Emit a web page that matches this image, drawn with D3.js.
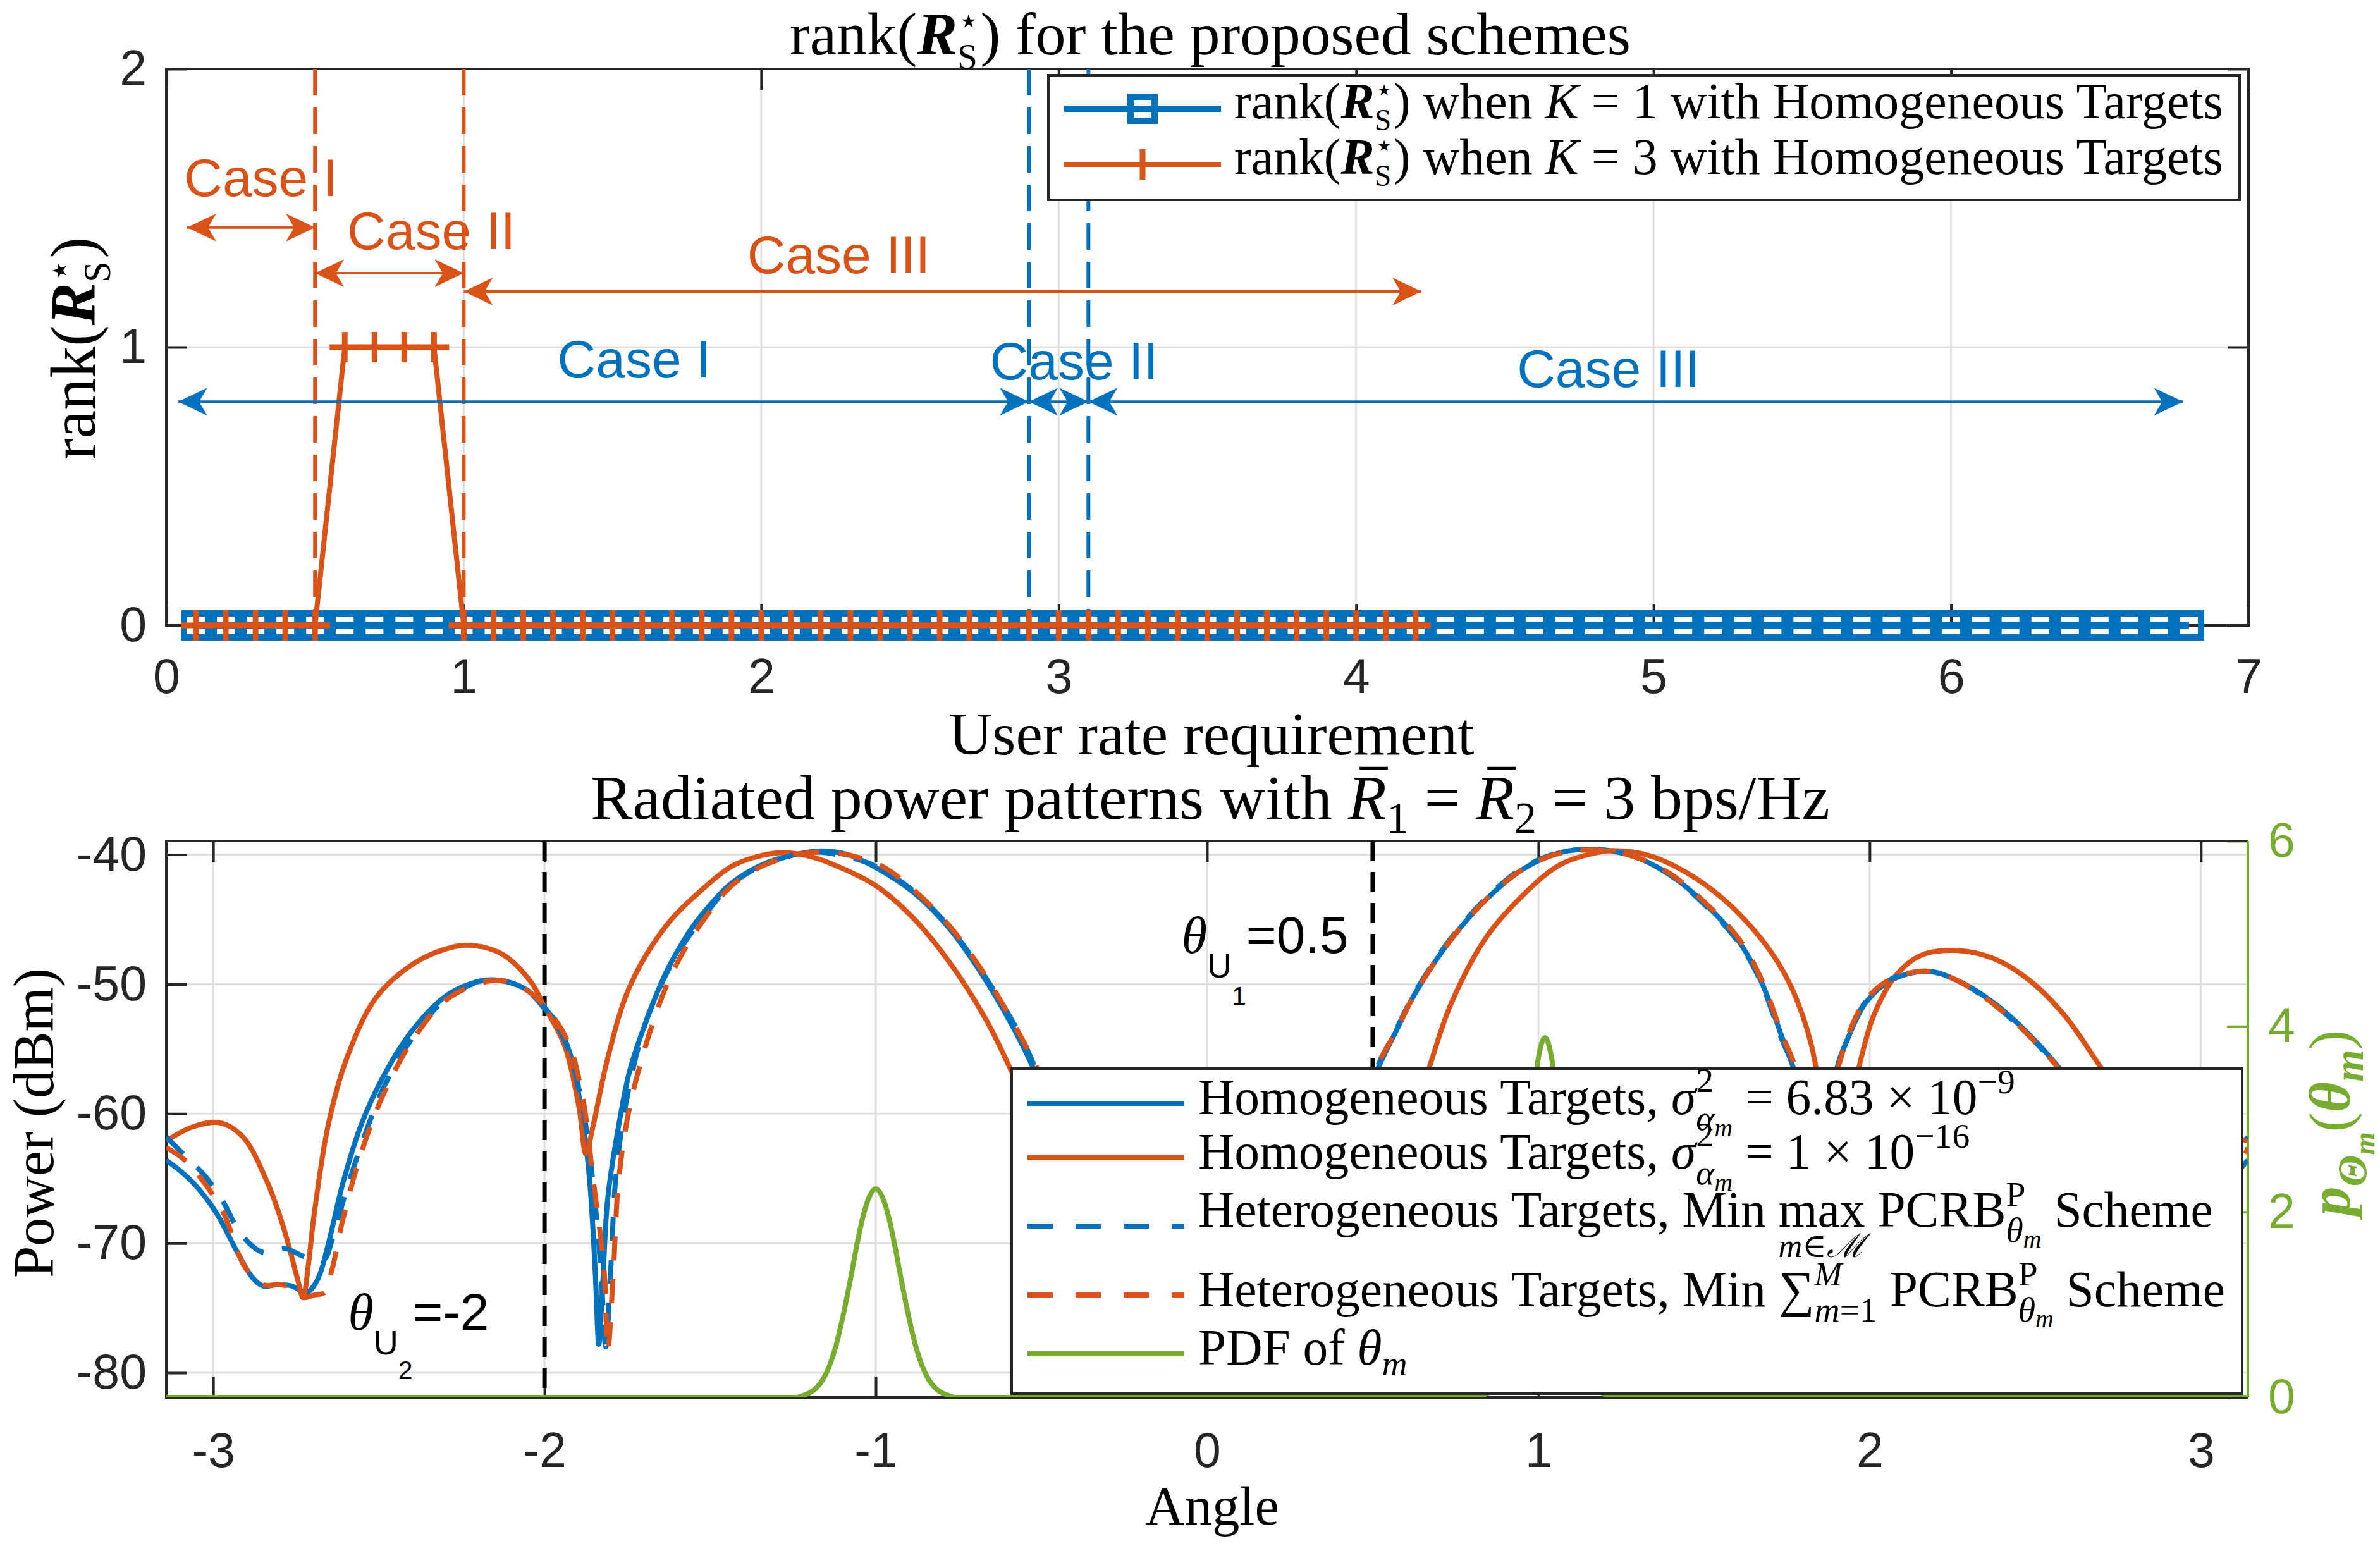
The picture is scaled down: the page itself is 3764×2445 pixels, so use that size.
<!DOCTYPE html>
<html>
<head>
<meta charset="utf-8">
<script src="https://cdn.jsdelivr.net/npm/d3@7"></script>
<style>
body{margin:0;background:#fff}
svg{display:block}
svg text{white-space:pre}
</style>
</head>
<body>
<script>
// ---------- data: top panel (rank vs user rate) ----------
var rateK1 = [0.1,0.2,0.3,0.4,0.5,0.6,0.7,0.8,0.9,1.0,1.1,1.2,1.3,1.4,1.5,1.6,1.7,1.8,1.9,2.0,
  2.1,2.2,2.3,2.4,2.5,2.6,2.7,2.8,2.9,3.0,3.1,3.2,3.3,3.4,3.5,3.6,3.7,3.8,3.9,4.0,
  4.1,4.2,4.3,4.4,4.5,4.6,4.7,4.8,4.9,5.0,5.1,5.2,5.3,5.4,5.5,5.6,5.7,5.8,5.9,6.0,
  6.1,6.2,6.3,6.4,6.5,6.6,6.7,6.8];
var rankK1 = [0,0,0,0,0,0,0,0,0,0,0,0,0,0,0,0,0,0,0,0,
  0,0,0,0,0,0,0,0,0,0,0,0,0,0,0,0,0,0,0,0,
  0,0,0,0,0,0,0,0,0,0,0,0,0,0,0,0,0,0,0,0,
  0,0,0,0,0,0,0,0];
var rateK3 = [0.1,0.2,0.3,0.4,0.5,0.6,0.7,0.8,0.9,1.0,1.1,1.2,1.3,1.4,1.5,1.6,1.7,1.8,1.9,2.0,
  2.1,2.2,2.3,2.4,2.5,2.6,2.7,2.8,2.9,3.0,3.1,3.2,3.3,3.4,3.5,3.6,3.7,3.8,3.9,4.0,4.1,4.2];
var rankK3 = [0,0,0,0,0,1,1,1,1,0,0,0,0,0,0,0,0,0,0,0,
  0,0,0,0,0,0,0,0,0,0,0,0,0,0,0,0,0,0,0,0,0,0];
var k3Bounds = [0.5, 1.0];
var k1Bounds = [2.9, 3.1];
var caseNames = ["Case I", "Case II", "Case III"];
var k3CaseEdges = [0.07, 0.5, 1.0, 4.22];
var k3ArrowRank = [1.43, 1.266, 1.20];
var k3LabelAt = [[0.06, 1.543], [0.608, 1.352], [1.953, 1.266]];
var k1CaseEdges = [0.04, 2.9, 3.1, 6.78];
var k1ArrowRank = [0.804, 0.804, 0.804];
var k1LabelAt = [[1.315, 0.891], [2.769, 0.883], [4.541, 0.857]];
var topXTicks = [0,1,2,3,4,5,6,7];
var topYTicks = [0,1,2];

// ---------- data: bottom panel (radiated power patterns) ----------
var homog69 = [[-3.1416,-63.6],[-3.10,-64.4],[-3.058,-65.4],[-2.992,-67.6],[-2.927,-70.7],[-2.883,-72.6],
  [-2.85,-73.3],[-2.806,-73.2],[-2.762,-73.3],[-2.718,-73.8],[-2.685,-72.8],[-2.653,-70.1],[-2.609,-65.4],
  [-2.554,-60.9],[-2.488,-57.2],[-2.40,-53.6],[-2.291,-50.8],[-2.181,-49.7],[-2.116,-49.8],[-2.05,-50.5],
  [-2.003,-51.8],[-1.962,-53.0],[-1.918,-55.8],[-1.886,-60.3],[-1.864,-65.1],[-1.847,-72.1],[-1.836,-77.8],
  [-1.825,-73.5],[-1.809,-66.5],[-1.776,-60.9],[-1.743,-56.7],[-1.688,-52.5],[-1.633,-49.1],[-1.579,-46.6],
  [-1.53,-44.8],[-1.435,-42.2],[-1.326,-40.6],[-1.216,-39.86],[-1.161,-39.72],[-1.085,-40.0],[-1.0,-41.0],
  [-0.887,-42.9],[-0.778,-45.7],[-0.668,-49.7],[-0.58,-53.6],[-0.526,-56.4],[-0.45,-61.0],[-0.38,-68.0],
  [-0.32,-75.0],[-0.26,-69.0],[-0.15,-63.0],[0.0,-60.5],[0.15,-61.5],[0.3,-66.0],[0.38,-71.0],[0.44,-63.0],
  [0.48,-59.0],[0.516,-56.5],[0.571,-53.6],[0.626,-50.8],[0.735,-46.6],[0.845,-43.4],[0.955,-41.1],
  [1.064,-39.86],[1.174,-39.6],[1.283,-40.1],[1.393,-41.5],[1.503,-43.8],[1.605,-46.7],[1.671,-49.7],
  [1.737,-54.2],[1.77,-56.5],[1.80,-60.0],[1.83,-83.0],[1.865,-64.0],[1.901,-56.5],[1.934,-54.2],
  [1.989,-51.4],[2.065,-49.7],[2.175,-49.0],[2.263,-49.7],[2.372,-51.4],[2.482,-53.9],[2.57,-56.4],
  [2.65,-59.0],[2.75,-63.0],[2.85,-68.0],[2.95,-74.0],[3.0,-71.5],[3.07,-66.0],[3.1416,-63.6]];
var homog16 = [[-3.1416,-62.1],[-3.06,-61.0],[-2.98,-60.7],[-2.91,-61.8],[-2.84,-65.1],[-2.80,-67.8],
  [-2.773,-70.1],[-2.745,-72.8],[-2.729,-74.2],[-2.712,-71.5],[-2.696,-67.9],[-2.653,-60.9],[-2.598,-55.8],
  [-2.51,-51.1],[-2.40,-48.5],[-2.30,-47.3],[-2.225,-47.0],[-2.127,-47.7],[-2.039,-49.9],[-2.003,-51.6],
  [-1.94,-54.7],[-1.896,-59.5],[-1.875,-63.1],[-1.853,-60.9],[-1.81,-55.8],[-1.743,-50.2],[-1.633,-45.5],
  [-1.524,-42.7],[-1.435,-40.9],[-1.35,-40.1],[-1.271,-39.86],[-1.19,-40.2],[-1.107,-41.0],[-1.0,-42.4],
  [-0.887,-44.9],[-0.778,-48.3],[-0.668,-52.7],[-0.591,-56.7],[-0.5,-62.0],[-0.4,-70.0],[-0.3,-66.0],
  [-0.1,-62.0],[0.1,-64.0],[0.3,-70.0],[0.5,-75.0],[0.6,-62.0],[0.67,-56.5],[0.735,-51.6],[0.845,-46.3],
  [0.955,-43.1],[1.064,-40.8],[1.174,-39.86],[1.228,-39.7],[1.338,-40.1],[1.448,-41.4],[1.557,-43.4],
  [1.65,-45.8],[1.72,-48.2],[1.78,-51.2],[1.835,-56.0],[1.86,-65.0],[1.885,-83.0],[1.92,-66.0],
  [1.95,-58.5],[1.967,-56.5],[2.011,-52.5],[2.077,-49.4],[2.153,-47.8],[2.263,-47.4],[2.372,-48.0],
  [2.482,-49.7],[2.591,-52.5],[2.70,-56.5],[2.8,-60.0],[2.9,-61.2],[3.0,-61.3],[3.1416,-62.1]];
var heteroMax = [[-3.1416,-61.8],[-3.091,-63.1],[-3.025,-64.8],[-2.970,-66.8],[-2.916,-69.3],[-2.85,-70.7],
  [-2.784,-70.4],[-2.729,-71.0],[-2.696,-71.2],[-2.664,-71.2],[-2.642,-69.8],[-2.598,-65.9],[-2.543,-61.7],
  [-2.488,-58.1],[-2.40,-54.2],[-2.291,-51.0],[-2.17,-49.7],[-2.08,-50.1],[-2.003,-51.7],[-1.94,-54.3],
  [-1.89,-58.8],[-1.855,-65.0],[-1.83,-72.0],[-1.815,-78.0],[-1.80,-72.0],[-1.785,-65.0],[-1.755,-59.3],
  [-1.70,-53.4],[-1.64,-49.6],[-1.58,-46.9],[-1.52,-44.8],[-1.435,-42.3],[-1.326,-40.65],[-1.19,-39.8],
  [-1.1,-40.1],[-1.0,-40.9],[-0.887,-42.8],[-0.778,-45.6],[-0.668,-49.5],[-0.565,-53.9],[-0.52,-56.4],
  [-0.45,-61.0],[-0.38,-68.0],[-0.32,-75.0],[-0.26,-69.0],[-0.15,-63.0],[0.0,-60.5],[0.15,-61.5],
  [0.3,-66.0],[0.38,-71.0],[0.44,-63.0],[0.48,-59.0],[0.512,-56.5],[0.571,-53.5],[0.626,-50.7],
  [0.735,-46.5],[0.845,-43.3],[0.955,-41.0],[1.064,-39.85],[1.174,-39.6],[1.283,-40.1],[1.393,-41.5],
  [1.503,-43.9],[1.605,-46.8],[1.671,-49.8],[1.737,-54.4],[1.772,-56.5],[1.80,-60.0],[1.835,-83.0],
  [1.868,-64.0],[1.903,-56.5],[1.934,-54.2],[1.989,-51.3],[2.065,-49.6],[2.175,-49.0],[2.263,-49.7],
  [2.372,-51.5],[2.482,-54.0],[2.57,-56.5],[2.65,-59.0],[2.75,-63.0],[2.85,-67.0],[2.95,-70.0],
  [3.05,-65.0],[3.1416,-61.8]];
var heteroSum = [[-3.1416,-62.6],[-3.08,-63.7],[-3.025,-65.4],[-2.97,-67.6],[-2.905,-71.8],[-2.85,-73.2],
  [-2.795,-73.2],[-2.751,-73.6],[-2.729,-74.2],[-2.696,-74.0],[-2.664,-73.8],[-2.642,-72.1],[-2.609,-68.2],
  [-2.554,-63.1],[-2.488,-58.6],[-2.40,-54.4],[-2.291,-51.1],[-2.149,-49.7],[-2.072,-50.2],[-2.003,-51.6],
  [-1.93,-54.4],[-1.886,-58.6],[-1.853,-65.1],[-1.82,-72.1],[-1.809,-78.3],[-1.792,-72.1],[-1.776,-65.1],
  [-1.743,-59.5],[-1.688,-54.2],[-1.633,-50.2],[-1.579,-47.4],[-1.524,-45.2],[-1.435,-42.4],[-1.326,-40.7],
  [-1.172,-39.8],[-0.997,-40.7],[-0.887,-42.7],[-0.778,-45.5],[-0.668,-49.4],[-0.559,-54.2],[-0.515,-56.4],
  [-0.45,-60.5],[-0.38,-67.0],[-0.32,-74.0],[-0.26,-68.0],[-0.15,-62.5],[0.0,-60.0],[0.15,-61.0],
  [0.3,-65.5],[0.38,-70.5],[0.44,-62.5],[0.48,-58.8],[0.51,-56.5],[0.571,-53.6],[0.626,-50.8],
  [0.735,-46.6],[0.845,-43.4],[0.955,-41.1],[1.064,-39.9],[1.174,-39.65],[1.283,-40.1],[1.393,-41.4],
  [1.503,-43.7],[1.605,-46.5],[1.671,-49.5],[1.737,-54.0],[1.775,-56.5],[1.81,-65.0],[1.84,-82.0],
  [1.87,-65.0],[1.895,-57.2],[1.91,-56.0],[1.934,-54.0],[1.989,-51.2],[2.065,-49.6],[2.175,-49.0],
  [2.263,-49.7],[2.372,-51.5],[2.482,-54.0],[2.57,-56.5],[2.7,-61.0],[2.85,-68.0],[2.95,-72.0],
  [3.05,-66.0],[3.134,-63.1],[3.1416,-62.6]];
var pdfAngle = [-3.1416,-1.24,-1.22,-1.20,-1.18,-1.16,-1.14,-1.12,-1.10,-1.08,-1.06,-1.04,-1.02,-1.00,
  -0.98,-0.96,-0.94,-0.92,-0.90,-0.88,-0.86,-0.84,-0.82,-0.80,-0.78,-0.76,
  0.82,0.84,0.86,0.88,0.90,0.92,0.94,0.96,0.98,1.00,1.02,1.04,1.06,1.08,1.10,1.12,1.14,1.16,1.18,1.20,1.22,3.1416];
var pdfValue = [0,0,0.02,0.05,0.10,0.19,0.34,0.56,0.86,1.21,1.59,1.93,2.16,2.25,
  2.16,1.93,1.59,1.21,0.86,0.56,0.34,0.19,0.10,0.05,0.02,0,
  0,0.03,0.09,0.21,0.46,0.88,1.50,2.27,3.06,3.66,3.88,3.66,3.06,2.27,1.50,0.88,0.46,0.21,0.09,0.03,0,0];
var userAngles = [-2, 0.5];
var botXTicks = [-3,-2,-1,0,1,2,3];
var botYTicks = [-80,-70,-60,-50,-40];
var pdfTicks = [0,2,4,6];

// ---------- look ----------
var W = 3764, H = 2445;
var BLUE = "#0072BD", ORANGE = "#D95319", GREEN = "#77AC30", AX = "#262626", GRID = "#dfdfdf";
var SERIF = "'Liberation Serif','DejaVu Serif',serif";
var SANS = "'Liberation Sans',Arial,sans-serif";
var TICK_FS = 77;

var svg = d3.select("body").append("svg").attr("width", W).attr("height", H);
svg.append("rect").attr("width", W).attr("height", H).attr("fill", "#fff");

// text made of pieces (sub/superscripts), laid out left to right
function rich(parent, pieces, fs, color) {
  var g = parent.append("g").attr("fill", color || "#000");
  var cx = 0, prevStart = 0, stackMax = 0;
  pieces.forEach(function(p) {
    if (p.stack) { stackMax = cx; cx = prevStart; }
    if (p.join) { cx = Math.max(cx, stackMax); }
    var k = p.k || 1;
    var it = p.f == "it" || p.f == "bi";
    var t = g.append("text")
      .attr("x", cx).attr("y", (p.dy || 0) * fs)
      .attr("font-size", k * fs)
      .attr("font-family", p.f == "sf" ? SANS : SERIF)
      .attr("font-style", it ? "italic" : "normal")
      .attr("font-weight", p.f == "bi" ? "bold" : "normal")
      .text(p.s);
    var w = t.node().getComputedTextLength();
    if (p.bar) {
      g.append("line").attr("x1", cx + 0.3 * w).attr("x2", cx + w + 0.02 * fs)
        .attr("y1", -0.8 * fs * k).attr("y2", -0.8 * fs * k)
        .attr("stroke", color || "#000").attr("stroke-width", 0.045 * fs);
    }
    if (p.under) {
      g.append("text").attr("x", cx + w / 2).attr("y", p.under.dy * fs)
        .attr("text-anchor", "middle").attr("font-size", p.under.k * fs)
        .attr("font-family", SERIF).attr("font-style", "italic")
        .text(p.under.s);
    }
    prevStart = cx;
    cx += w;
  });
  return {g: g, w: cx};
}

function put(parent, pieces, opt) {
  var r = rich(parent, pieces, opt.fs || 100, opt.color);
  var s = opt.scale || (opt.width ? opt.width / r.w : 1);
  var off = opt.anchor == "middle" ? r.w / 2 : 0;
  r.g.attr("transform", "translate(" + opt.x + "," + opt.y + ")" +
    (opt.rotate ? " rotate(" + opt.rotate + ")" : "") +
    " scale(" + s + ") translate(" + (-off) + ",0)");
  return r;
}

function styleAxis(sel, color) {
  sel.attr("font-size", null).attr("font-family", null);
  sel.select(".domain").remove();
  sel.selectAll("line").attr("stroke", color).attr("stroke-width", 4);
  sel.selectAll("text").attr("fill", color).attr("font-size", TICK_FS).attr("font-family", SANS);
}

function arrow(g, x0, x1, y, color) {
  g.append("line").attr("x1", x0).attr("x2", x1).attr("y1", y).attr("y2", y)
    .attr("stroke", color).attr("stroke-width", 4);
  [[x0, 1], [x1, -1]].forEach(function(e) {
    var L = 46, hw = 22, s = e[1];
    g.append("path").attr("fill", color)
      .attr("d", "M" + e[0] + "," + y + "L" + (e[0] + s * L) + "," + (y - hw) +
        "L" + (e[0] + s * 0.72 * L) + "," + y + "L" + (e[0] + s * L) + "," + (y + hw) + "Z");
  });
}

var rankPieces = function(tail) {
  return [{s: "rank(", f: "rm"}, {s: "R", f: "bi"}, {s: "\u22C6", f: "rm", k: 0.6, dy: -0.36},
    {s: "S", f: "rm", k: 0.6, dy: 0.24, stack: true}, {s: tail, f: "rm", join: true}];
};

// ================= top panel =================
var xT = d3.scaleLinear().domain([0, 7]).range([263, 3556]);
var yT = d3.scaleLinear().domain([0, 2]).range([989, 109]);
var gT = svg.append("g");

gT.selectAll(".gx").data(topXTicks).enter().append("line")
  .attr("x1", d => xT(d)).attr("x2", d => xT(d)).attr("y1", yT(2)).attr("y2", yT(0))
  .attr("stroke", GRID).attr("stroke-width", 3);
gT.selectAll(".gy").data(topYTicks).enter().append("line")
  .attr("x1", xT(0)).attr("x2", xT(7)).attr("y1", d => yT(d)).attr("y2", d => yT(d))
  .attr("stroke", GRID).attr("stroke-width", 3);

gT.append("g").attr("transform", "translate(0," + yT(0) + ")")
  .call(d3.axisBottom(xT).tickValues(topXTicks).tickFormat(d => String(d)).tickSize(-33).tickPadding(52))
  .call(styleAxis, AX);
gT.append("g").attr("transform", "translate(0," + yT(2) + ")")
  .call(d3.axisTop(xT).tickValues(topXTicks).tickFormat("").tickSize(-33)).call(styleAxis, AX);
gT.append("g").attr("transform", "translate(" + xT(0) + ",0)")
  .call(d3.axisLeft(yT).tickValues(topYTicks).tickFormat(d => String(d)).tickSize(-33).tickPadding(31))
  .call(styleAxis, AX);
gT.append("g").attr("transform", "translate(" + xT(7) + ",0)")
  .call(d3.axisRight(yT).tickValues(topYTicks).tickFormat("").tickSize(-33)).call(styleAxis, AX);
gT.append("rect").attr("x", xT(0)).attr("y", yT(2)).attr("width", xT(7) - xT(0)).attr("height", yT(0) - yT(2))
  .attr("fill", "none").attr("stroke", AX).attr("stroke-width", 4);

// case boundaries
gT.selectAll(".b3").data(k3Bounds).enter().append("line")
  .attr("x1", d => xT(d)).attr("x2", d => xT(d)).attr("y1", yT(2)).attr("y2", yT(0))
  .attr("stroke", ORANGE).attr("stroke-width", 6).attr("stroke-dasharray", "42,19");
gT.selectAll(".b1").data(k1Bounds).enter().append("line")
  .attr("x1", d => xT(d)).attr("x2", d => xT(d)).attr("y1", yT(2)).attr("y2", yT(0))
  .attr("stroke", BLUE).attr("stroke-width", 6).attr("stroke-dasharray", "42,19");

// rank series
var lineT = d3.line().x(d => xT(d[0])).y(d => yT(d[1]));
var k1 = rateK1.map((r, i) => [r, rankK1[i]]);
var k3 = rateK3.map((r, i) => [r, rankK3[i]]);
gT.append("path").attr("d", lineT(k1)).attr("fill", "none").attr("stroke", BLUE).attr("stroke-width", 11);
gT.selectAll(".sq").data(k1).enter().append("rect")
  .attr("x", d => xT(d[0]) - 19).attr("y", d => yT(d[1]) - 19).attr("width", 38).attr("height", 38)
  .attr("fill", "none").attr("stroke", BLUE).attr("stroke-width", 10);
gT.append("path").attr("d", lineT(k3)).attr("fill", "none").attr("stroke", ORANGE).attr("stroke-width", 8);
var plus = gT.selectAll(".pl").data(k3).enter().append("g")
  .attr("transform", d => "translate(" + xT(d[0]) + "," + yT(d[1]) + ")");
plus.append("line").attr("x1", -24).attr("x2", 24).attr("stroke", ORANGE).attr("stroke-width", 9);
plus.append("line").attr("y1", -24).attr("y2", 24).attr("stroke", ORANGE).attr("stroke-width", 9);

// case arrows and labels
caseNames.forEach(function(name, i) {
  arrow(gT, xT(k3CaseEdges[i]), xT(k3CaseEdges[i + 1]), yT(k3ArrowRank[i]), ORANGE);
  arrow(gT, xT(k1CaseEdges[i]), xT(k1CaseEdges[i + 1]), yT(k1ArrowRank[i]), BLUE);
  gT.append("text").attr("x", xT(k3LabelAt[i][0])).attr("y", yT(k3LabelAt[i][1]))
    .attr("font-family", SANS).attr("font-size", 84).attr("fill", ORANGE).text(name);
  gT.append("text").attr("x", xT(k1LabelAt[i][0])).attr("y", yT(k1LabelAt[i][1]))
    .attr("font-family", SANS).attr("font-size", 84).attr("fill", BLUE).text(name);
});

// top legend
var lgT = svg.append("g");
lgT.append("rect").attr("x", 1658).attr("y", 119).attr("width", 1884).attr("height", 197)
  .attr("fill", "#fff").attr("stroke", AX).attr("stroke-width", 4);
lgT.append("line").attr("x1", 1683).attr("x2", 1931).attr("y1", 172).attr("y2", 172)
  .attr("stroke", BLUE).attr("stroke-width", 10);
lgT.append("rect").attr("x", 1807 - 19).attr("y", 172 - 19).attr("width", 38).attr("height", 38)
  .attr("fill", "none").attr("stroke", BLUE).attr("stroke-width", 10);
lgT.append("line").attr("x1", 1683).attr("x2", 1931).attr("y1", 260).attr("y2", 260)
  .attr("stroke", ORANGE).attr("stroke-width", 8);
lgT.append("line").attr("x1", 1807).attr("x2", 1807).attr("y1", 236).attr("y2", 284)
  .attr("stroke", ORANGE).attr("stroke-width", 9);
var legTop1 = rankPieces(") when ").concat([{s: "K", f: "it"}, {s: " = 1 with Homogeneous Targets", f: "rm"}]);
var legTop2 = rankPieces(") when ").concat([{s: "K", f: "it"}, {s: " = 3 with Homogeneous Targets", f: "rm"}]);
var r1 = put(lgT, legTop1, {x: 1952, y: 187, width: 1564});
var sTop = 1564 / r1.w;
put(lgT, legTop2, {x: 1952, y: 275, scale: sTop});

// titles and labels
put(svg, rankPieces(") for the proposed schemes"), {x: 1914, y: 86, width: 1330, anchor: "middle"});
put(svg, [{s: "User rate requirement", f: "rm"}], {x: 1916, y: 1193, width: 831, anchor: "middle"});
put(svg, rankPieces(")"), {x: 150, y: 551, width: 352, anchor: "middle", rotate: -90});

// ================= bottom panel =================
var xB = d3.scaleLinear().domain([-Math.PI, Math.PI]).range([263, 3555]);
var yB = d3.scaleLinear().domain([-81.9, -38.95]).range([2210, 1330]);
var yP = d3.scaleLinear().domain([0, 6]).range([2210, 1330]);
var gB = svg.append("g");

gB.selectAll(".gx").data(botXTicks).enter().append("line")
  .attr("x1", d => xB(d)).attr("x2", d => xB(d)).attr("y1", 1330).attr("y2", 2210)
  .attr("stroke", GRID).attr("stroke-width", 3);
gB.selectAll(".gy").data(botYTicks).enter().append("line")
  .attr("x1", 263).attr("x2", 3555).attr("y1", d => yB(d)).attr("y2", d => yB(d))
  .attr("stroke", GRID).attr("stroke-width", 3);

gB.append("g").attr("transform", "translate(0,2210)")
  .call(d3.axisBottom(xB).tickValues(botXTicks).tickFormat(d => String(d)).tickSize(-33).tickPadding(55))
  .call(styleAxis, AX);
gB.append("g").attr("transform", "translate(0,1330)")
  .call(d3.axisTop(xB).tickValues(botXTicks).tickFormat("").tickSize(-33)).call(styleAxis, AX);
gB.append("g").attr("transform", "translate(263,0)")
  .call(d3.axisLeft(yB).tickValues(botYTicks).tickFormat(d => String(d)).tickSize(-33).tickPadding(31))
  .call(styleAxis, AX);
gB.append("g").attr("transform", "translate(3555,0)")
  .call(d3.axisRight(yP).tickValues(pdfTicks).tickFormat(d => String(d)).tickSize(-33).tickPadding(32))
  .call(styleAxis, GREEN);
gB.append("path").attr("d", "M3555,1330H263V2210H3555").attr("fill", "none").attr("stroke", AX).attr("stroke-width", 4);
gB.append("line").attr("x1", 3555).attr("x2", 3555).attr("y1", 1330).attr("y2", 2210)
  .attr("stroke", GREEN).attr("stroke-width", 4);

svg.append("clipPath").attr("id", "clipB").append("rect")
  .attr("x", 263).attr("y", 1330).attr("width", 3292).attr("height", 880);
var gC = gB.append("g").attr("clip-path", "url(#clipB)");

gC.selectAll(".ua").data(userAngles).enter().append("line")
  .attr("x1", d => xB(d)).attr("x2", d => xB(d)).attr("y1", 1330).attr("y2", 2210)
  .attr("stroke", "#000").attr("stroke-width", 7).attr("stroke-dasharray", "32,17");

var lineB = d3.line().x(d => xB(d[0])).y(d => yB(d[1])).curve(d3.curveCatmullRom.alpha(0.5));
gC.append("path").attr("d", lineB(homog69)).attr("fill", "none").attr("stroke", BLUE).attr("stroke-width", 8);
gC.append("path").attr("d", lineB(homog16)).attr("fill", "none").attr("stroke", ORANGE).attr("stroke-width", 8);
gC.append("path").attr("d", lineB(heteroMax)).attr("fill", "none").attr("stroke", BLUE).attr("stroke-width", 8)
  .attr("stroke-dasharray", "38,30");
gC.append("path").attr("d", lineB(heteroSum)).attr("fill", "none").attr("stroke", ORANGE).attr("stroke-width", 8)
  .attr("stroke-dasharray", "38,30");
var pdfLine = d3.line().x(d => xB(d[0])).y(d => yP(d[1])).curve(d3.curveMonotoneX);
gC.append("path").attr("d", pdfLine(pdfAngle.map((a, i) => [a, pdfValue[i]])))
  .attr("fill", "none").attr("stroke", GREEN).attr("stroke-width", 8);

// user angle notes
put(gB, [{s: "\u03B8", f: "it"}, {s: "U", f: "sf", k: 0.66, dy: 0.47}, {s: "2", f: "sf", k: 0.5, dy: 0.95},
  {s: "=-2", f: "sf"}], {x: xB(-2.593), y: yB(-76.68), fs: 82});
put(gB, [{s: "\u03B8", f: "it"}, {s: "U", f: "sf", k: 0.66, dy: 0.48}, {s: "1", f: "sf", k: 0.5, dy: 1.0},
  {s: "=0.5", f: "sf"}], {x: xB(-0.077), y: yB(-47.59), fs: 82});

// bottom legend
var lgB = svg.append("g");
lgB.append("rect").attr("x", 1600).attr("y", 1690).attr("width", 1946).attr("height", 514)
  .attr("fill", "#fff").attr("stroke", AX).attr("stroke-width", 4);
var legRowsY = [1745, 1831, 1939, 2048, 2141];
var legBaseY = [1762, 1848, 1940, 2066, 2158];
var legColor = [BLUE, ORANGE, BLUE, ORANGE, GREEN];
var legDash = [null, null, "40,36", "40,36", null];
legRowsY.forEach(function(y, i) {
  lgB.append("line").attr("x1", 1625).attr("x2", 1873).attr("y1", y).attr("y2", y)
    .attr("stroke", legColor[i]).attr("stroke-width", 8).attr("stroke-dasharray", legDash[i]);
});
var sigma = [{s: "\u03C3", f: "it"}, {s: "2", f: "rm", k: 0.7, dy: -0.44},
  {s: "\u03B1", f: "it", k: 0.7, dy: 0.32, stack: true}, {s: "m", f: "it", k: 0.5, dy: 0.44}];
var pcrb = [{s: " PCRB", f: "rm", join: true}, {s: "P", f: "rm", k: 0.7, dy: -0.42},
  {s: "\u03B8", f: "it", k: 0.7, dy: 0.3, stack: true}, {s: "m", f: "it", k: 0.5, dy: 0.42},
  {s: " Scheme", f: "rm", join: true}];
var legBot = [
  [{s: "Homogeneous Targets, ", f: "rm"}].concat(sigma, [{s: " = 6.83 \u00D7 10", f: "rm", join: true},
    {s: "\u22129", f: "rm", k: 0.7, dy: -0.42}]),
  [{s: "Homogeneous Targets, ", f: "rm"}].concat(sigma, [{s: " = 1 \u00D7 10", f: "rm", join: true},
    {s: "\u221216", f: "rm", k: 0.7, dy: -0.42}]),
  [{s: "Heterogeneous Targets, Min ", f: "rm"},
    {s: "max", f: "rm", under: {s: "m\u2208\u2133", k: 0.66, dy: 0.6}}].concat(pcrb),
  [{s: "Heterogeneous Targets, Min ", f: "rm"}, {s: "\u2211", f: "rm"},
    {s: "M", f: "it", k: 0.66, dy: -0.42}, {s: "m", f: "it", k: 0.7, dy: 0.3, stack: true},
    {s: "=1", f: "rm", k: 0.7, dy: 0.3}].concat(pcrb),
  [{s: "PDF of ", f: "rm"}, {s: "\u03B8", f: "it"}, {s: "m", f: "it", k: 0.7, dy: 0.22}]
];
var probe = rich(svg, legBot[3], 100);
var sBot = 1624 / probe.w;
probe.g.remove();
legBot.forEach(function(p, i) {
  put(lgB, p, {x: 1895, y: legBaseY[i], scale: sBot});
});

// titles and labels
put(svg, [{s: "Radiated power patterns with ", f: "rm"}, {s: "R", f: "it", bar: true},
  {s: "1", f: "rm", k: 0.7, dy: 0.22}, {s: " = ", f: "rm"}, {s: "R", f: "it", bar: true},
  {s: "2", f: "rm", k: 0.7, dy: 0.22}, {s: " = 3 bps/Hz", f: "rm"}],
  {x: 1914, y: 1295, width: 1960, anchor: "middle"});
put(svg, [{s: "Angle", f: "rm"}], {x: 1917, y: 2411, width: 212, anchor: "middle"});
put(svg, [{s: "Power (dBm)", f: "rm"}], {x: 84, y: 1776, width: 490, anchor: "middle", rotate: -90});
put(svg, [{s: "p", f: "bi"}, {s: "\u0398", f: "bi", k: 0.7, dy: 0.28}, {s: "m", f: "bi", k: 0.5, dy: 0.42},
  {s: "(", f: "rm"}, {s: "\u03B8", f: "bi"}, {s: "m", f: "bi", k: 0.7, dy: 0.22}, {s: ")", f: "rm"}],
  {x: 3716, y: 1776, width: 294, anchor: "middle", rotate: -90, color: GREEN});
</script>
</body>
</html>
